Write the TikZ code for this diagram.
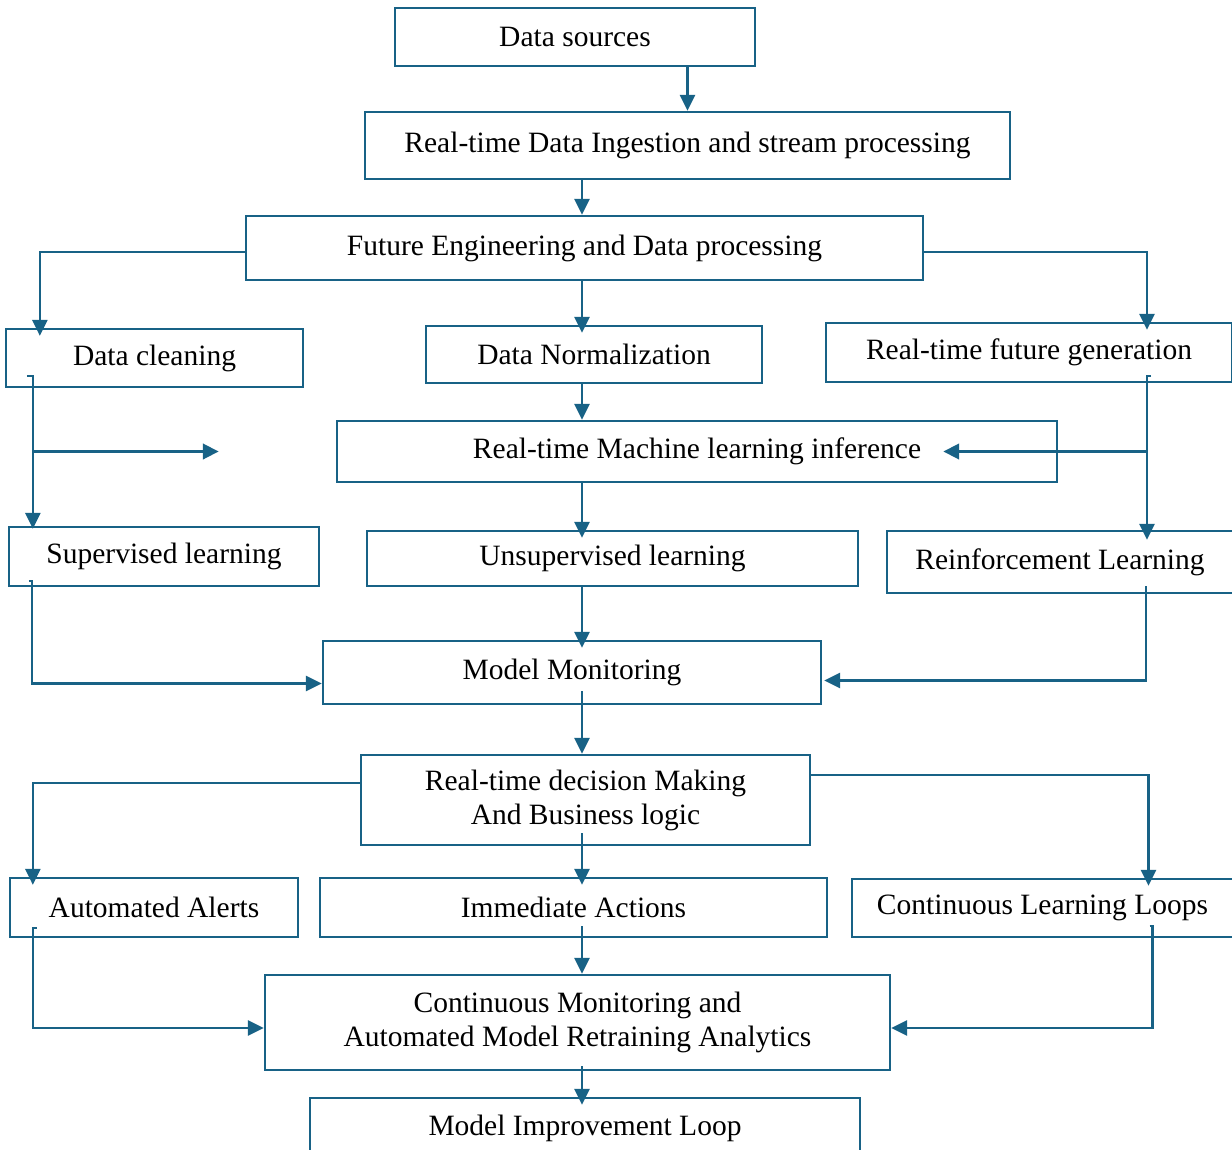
\documentclass[tikz,border=0pt]{standalone}
\usepackage{fontspec}
\setmainfont{Liberation Serif}
\usepackage{tikz}
\usetikzlibrary{arrows.meta, positioning}

\definecolor{flow}{RGB}{24,98,134}

\begin{document}
\begin{tikzpicture}[x=1pt,y=-1pt,
    box/.style={draw=flow, line width=2.3pt, inner sep=0pt, align=center,
      font=\fontsize{29.5}{34}\selectfont},
    link/.style={draw=flow, line width=2.6pt, -{Triangle[length=16pt,width=15pt]}},
    into/.style={shorten >=-8pt},
    thick link/.style={link, line width=3.8pt}]
  \fill[white] (0,0) rectangle (1232,1149);
  \useasboundingbox (0,0) rectangle (1232,1149);

  \node[box, minimum width=360pt, minimum height=58pt] (src) at (575,37) {Data sources};
  \node[box, minimum width=645pt, minimum height=67pt] (ingest) at (687.5,145.5) {Real-time Data Ingestion and stream processing};
  \node[box, minimum width=677pt, minimum height=64pt] (feng) at (584.5,248) {Future Engineering and Data processing};
  \node[box, minimum width=297pt, minimum height=58pt] (clean) at (154.5,358) {Data cleaning};
  \node[box, minimum width=336pt, minimum height=57pt] (norm) at (594,354.5) {Data Normalization};
  \node[box, minimum width=406pt, minimum height=59pt] (fgen) at (1029,352.5) {Real-time future generation};
  \node[box, minimum width=720pt, minimum height=61pt] (infer) at (697,451.5) {Real-time Machine learning inference};
  \node[box, minimum width=310pt, minimum height=59pt] (sup) at (164,556.5) {Supervised learning};
  \node[box, minimum width=491pt, minimum height=55pt] (unsup) at (612.5,558.5) {Unsupervised learning};
  \node[box, minimum width=346pt, minimum height=62pt] (reinf) at (1060,562) {Reinforcement Learning};
  \node[box, minimum width=498pt, minimum height=63pt] (monit) at (572,672.5) {Model Monitoring};
  \node[box, minimum width=449pt, minimum height=90pt] (decide) at (585.5,800) {Real-time decision Making\\And Business logic};
  \node[box, minimum width=288pt, minimum height=59pt] (alerts) at (154,907.5) {Automated Alerts};
  \node[box, minimum width=507pt, minimum height=59pt] (immed) at (573.5,907.5) {Immediate Actions};
  \node[box, minimum width=381pt, minimum height=58pt] (loops) at (1042.5,908) {Continuous Learning Loops};
  \node[box, minimum width=625pt, minimum height=95pt] (cmon) at (577.5,1022.5) {Continuous Monitoring and\\Automated Model Retraining Analytics};
  \node[box, minimum width=550pt, minimum height=60pt] (improve) at (585,1128) {Model Improvement Loop};

  % main spine
  \coordinate (mid) at (582,0);
  \draw[link] (src.south -| ingest.north) -- (ingest.north);
  \draw[link] (mid |- ingest.south) -- (mid |- feng.north);
  \draw[link, into] (mid |- feng.south) -- (mid |- norm.north);
  \draw[link] (mid |- norm.south) -- (mid |- infer.north);
  \draw[link, into] (mid |- infer.south) -- (mid |- unsup.north);
  \draw[link, into] (mid |- unsup.south) -- (mid |- monit.north);
  \draw[link] ([yshift=14pt]mid |- monit.south) -- (mid |- decide.north);
  \draw[link, into] ([yshift=13pt]mid |- decide.south) -- (mid |- immed.north);
  \draw[link] ([yshift=12pt]mid |- immed.south) -- (mid |- cmon.north);
  \draw[link, into] ([yshift=5pt]mid |- cmon.south) -- (mid |- improve.north);

  % left branch
  \draw[link, into] ([yshift=-4pt]feng.west) -| ([xshift=35pt]clean.north west);
  \coordinate (ctap) at ([xshift=28pt,yshift=12pt]clean.south west);
  \coordinate (stub) at ([xshift=-117pt]infer.west);
  \draw[link] ([xshift=-6pt]ctap) -- (ctap) -- ([yshift=-3pt]ctap |- sup.north);
  \draw[thick link] (ctap |- infer.center) -- (stub);
  \coordinate (stap) at ([xshift=24pt,yshift=6pt]sup.south west);
  \draw[link] ([xshift=-3pt]stap) -- (stap) |- ([yshift=-11pt]monit.west);

  % right branch
  \draw[link, into] ([yshift=-4pt]feng.east) -| ([xshift=118pt]fgen.north);
  \coordinate (gtap) at ([xshift=118pt,yshift=7pt]fgen.south);
  \draw[link] ([xshift=4pt]gtap) -- (gtap) -- ([yshift=-10pt]gtap |- reinf.north);
  \draw[thick link] (gtap |- infer.center) -- ([xshift=-115pt]infer.east);
  \coordinate (rtap) at ([xshift=86pt,yshift=8pt]reinf.south);
  \draw[link] (rtap) |- ([yshift=-8pt,xshift=2pt]monit.east);

  % decision outputs
  \draw[link, into] ([yshift=17pt]decide.west) -| ([xshift=24pt]alerts.north west);
  \draw[link, into] ([yshift=25pt]decide.east) -| ([xshift=106pt]loops.north);
  \coordinate (atap) at ([xshift=24pt,yshift=10pt]alerts.south west);
  \draw[link] ([xshift=4pt]atap) -- (atap) |- ([yshift=-5.5pt]cmon.west);
  \coordinate (ltap) at ([xshift=110pt,yshift=12pt]loops.south);
  \draw[link] ([xshift=-3pt]ltap) -- (ltap) |- ([yshift=-5.5pt]cmon.east);
\end{tikzpicture}
\end{document}
